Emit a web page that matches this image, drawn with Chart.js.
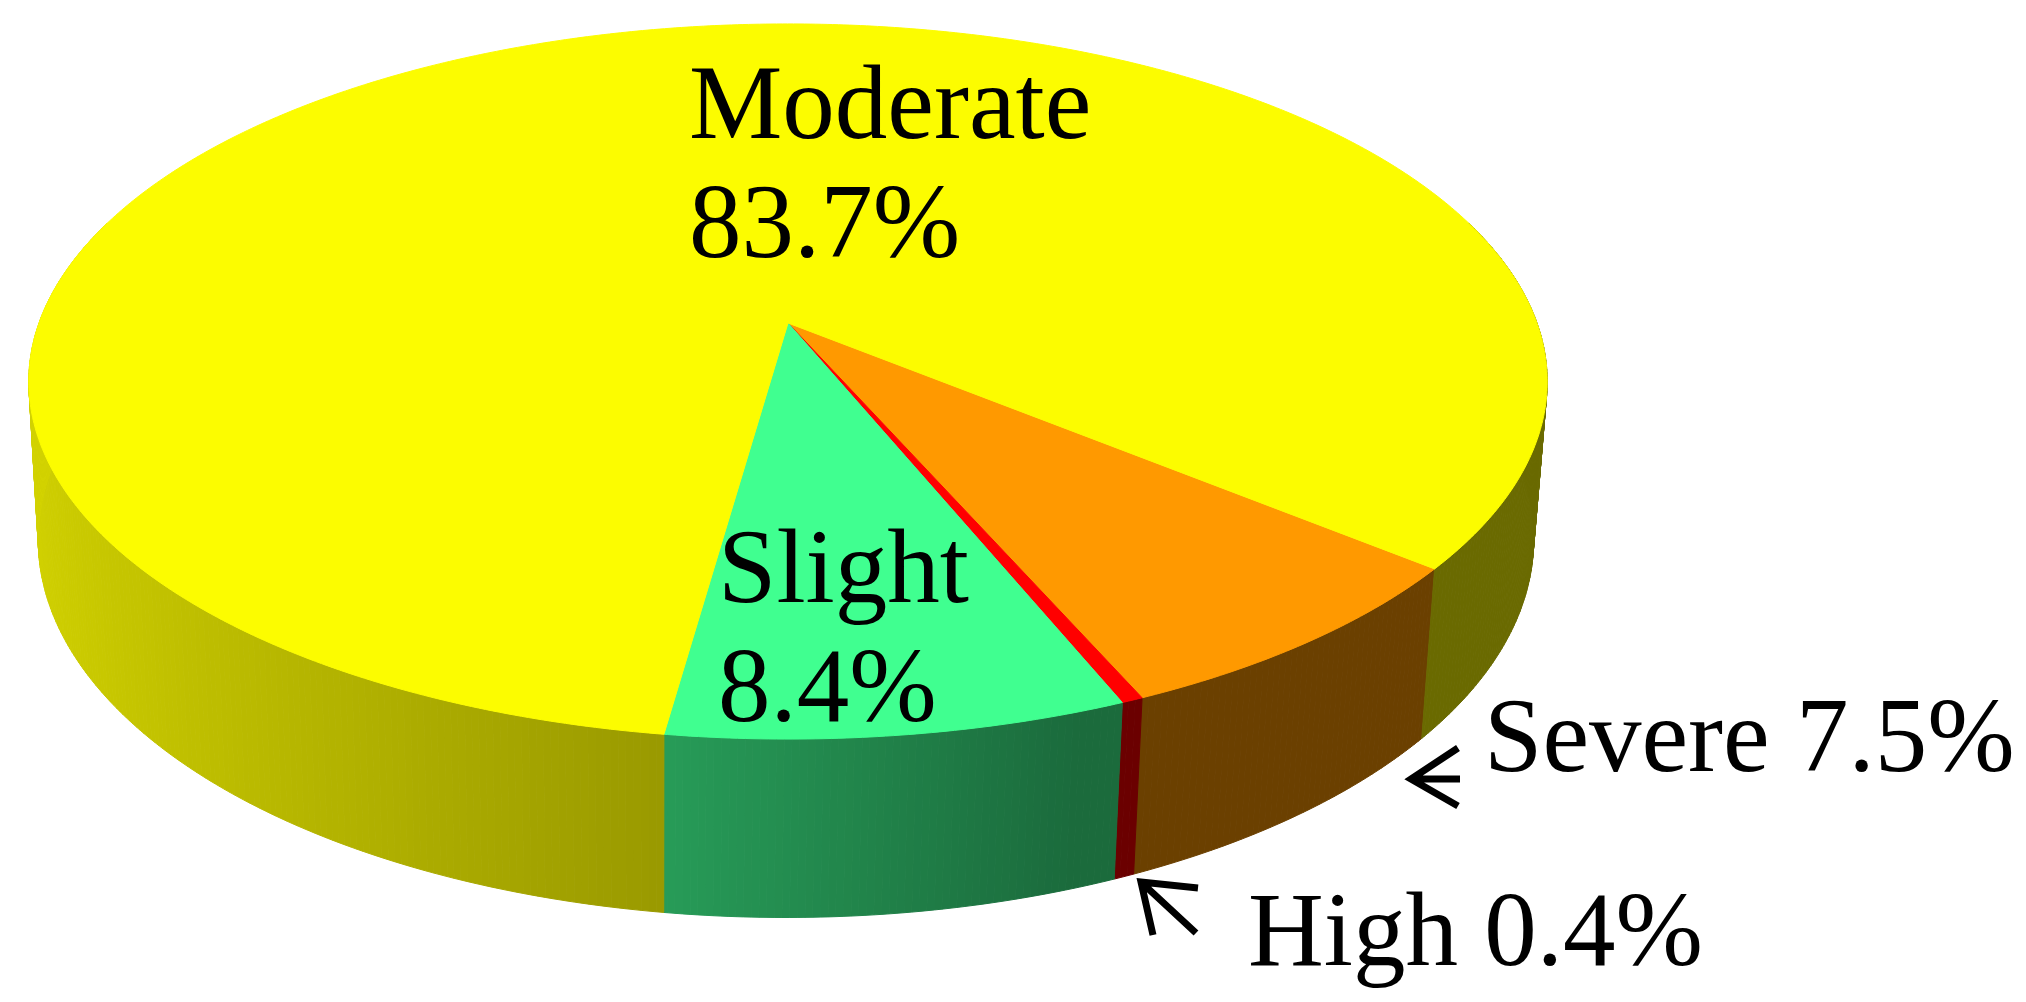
<!DOCTYPE html>
<html>
<head>
<meta charset="utf-8">
<title>Severity share</title>
<script src="https://cdn.jsdelivr.net/npm/chart.js@4/dist/chart.umd.js"></script>
<style>
  html, body { margin: 0; padding: 0; background: #fff; }
  canvas { display: block; }
</style>
</head>
<body>
<canvas id="pie" width="2026" height="1002"></canvas>
<script>
const CATEGORIES = ['Severe', 'High', 'Slight', 'Moderate'];
const VALUES = [7.5, 0.4, 8.4, 83.7];
const COLORS = ['#ff9900', '#ff0000', '#40ff90', '#fcfc00'];

// tilted disc: screen position of a point on the unit circle
const VIEW = { cx: 788, cy: 323, a: 749, b: 348, k: 0.1636 };
// bottom rim of the disc, same projection with a depth term
const DEPTH = { ex: 9.8, ey: 163, g: 0.015 };
const STEP = Math.PI / 360;

const LABELS = [
  { index: 3, x: 689, y: 138, wrap: true },
  { index: 2, x: 718, y: 602, wrap: true },
  { index: 0, x: 1484, y: 771, wrap: false },
  { index: 1, x: 1248, y: 965, wrap: false },
];
const ARROWS = [
  { tip: [1411, 779], tail: [1460, 779], wings: [[1458, 748], [1458, 806]] },
  { tip: [1141, 882], tail: [1196, 933], wings: [[1198, 888], [1153, 935]] },
];

function project(x, y, z) {
  const w = 1 - VIEW.k * y;
  const d = w + DEPTH.g * z;
  return [
    (VIEW.cx * w + VIEW.a * x + DEPTH.ex * z) / d,
    (VIEW.cy * w + VIEW.b * y + DEPTH.ey * z) / d,
  ];
}

function sideShade(x) {
  if (x < -0.14) return 0.61 - 0.26 * (x + 0.14);
  return Math.max(0.42, 0.61 - 0.41 * (x + 0.14));
}

function shadeColor(hex, factor) {
  const n = parseInt(hex.slice(1), 16);
  const parts = [n >> 16, (n >> 8) & 255, n & 255].map((c) => Math.round(c * factor));
  return `rgb(${parts.join(',')})`;
}

class Pie3dArc extends Chart.ArcElement {
  static id = 'pie3dArc';

  draw(ctx) {
    ctx.save();
    ctx.fillStyle = this.options.backgroundColor;
    ctx.strokeStyle = this.options.backgroundColor;
    ctx.lineWidth = 1;
    ctx.beginPath();
    ctx.moveTo(...project(0, 0, 0));
    for (let a = this.startAngle; a < this.endAngle; a += STEP) {
      ctx.lineTo(...project(Math.cos(a), Math.sin(a), 0));
    }
    ctx.lineTo(...project(Math.cos(this.endAngle), Math.sin(this.endAngle), 0));
    ctx.closePath();
    ctx.fill();
    ctx.stroke();
    ctx.restore();
  }

  drawSide(ctx) {
    for (let a = this.startAngle; a < this.endAngle; a += STEP) {
      const b = Math.min(a + STEP, this.endAngle);
      if (Math.sin(a) < -0.3 && Math.sin(b) < -0.3) continue;
      const color = shadeColor(this.options.backgroundColor, sideShade(Math.cos((a + b) / 2)));
      ctx.fillStyle = color;
      ctx.strokeStyle = color;
      ctx.lineWidth = 1;
      ctx.beginPath();
      ctx.moveTo(...project(Math.cos(a), Math.sin(a), 0));
      ctx.lineTo(...project(Math.cos(b), Math.sin(b), 0));
      ctx.lineTo(...project(Math.cos(b), Math.sin(b), 1));
      ctx.lineTo(...project(Math.cos(a), Math.sin(a), 1));
      ctx.closePath();
      ctx.fill();
      ctx.stroke();
    }
  }
}

class Pie3dController extends Chart.PieController {
  static id = 'pie3d';
  static defaults = { dataElementType: 'pie3dArc' };

  draw() {
    const ctx = this.chart.ctx;
    this.getMeta().data.forEach((arc) => arc.drawSide(ctx));
    super.draw();
  }
}

Chart.register(Pie3dArc, Pie3dController);

const annotations = {
  id: 'annotations',
  afterDraw(chart) {
    const ctx = chart.ctx;
    ctx.save();
    ctx.fillStyle = '#000';
    ctx.font = '105px "Liberation Serif"';
    ctx.textBaseline = 'alphabetic';
    LABELS.forEach((label) => {
      const name = CATEGORIES[label.index];
      const pct = `${VALUES[label.index]}%`;
      if (label.wrap) {
        ctx.fillText(name, label.x, label.y);
        ctx.fillText(pct, label.x, label.y + 119);
      } else {
        ctx.fillText(`${name} ${pct}`, label.x, label.y);
      }
    });
    ctx.strokeStyle = '#000';
    ctx.lineWidth = 7;
    ARROWS.forEach((arrow) => {
      ctx.beginPath();
      ctx.moveTo(...arrow.tail);
      ctx.lineTo(...arrow.tip);
      ctx.moveTo(...arrow.wings[0]);
      ctx.lineTo(...arrow.tip);
      ctx.lineTo(...arrow.wings[1]);
      ctx.stroke();
    });
    ctx.restore();
  },
};

new Chart(document.getElementById('pie'), {
  type: 'pie3d',
  data: {
    labels: CATEGORIES,
    datasets: [{ data: VALUES, backgroundColor: COLORS, borderWidth: 0 }],
  },
  options: {
    responsive: false,
    animation: false,
    devicePixelRatio: 1,
    rotation: 129.3,
    plugins: { legend: { display: false }, tooltip: { enabled: false } },
  },
  plugins: [annotations],
});
</script>
</body>
</html>
